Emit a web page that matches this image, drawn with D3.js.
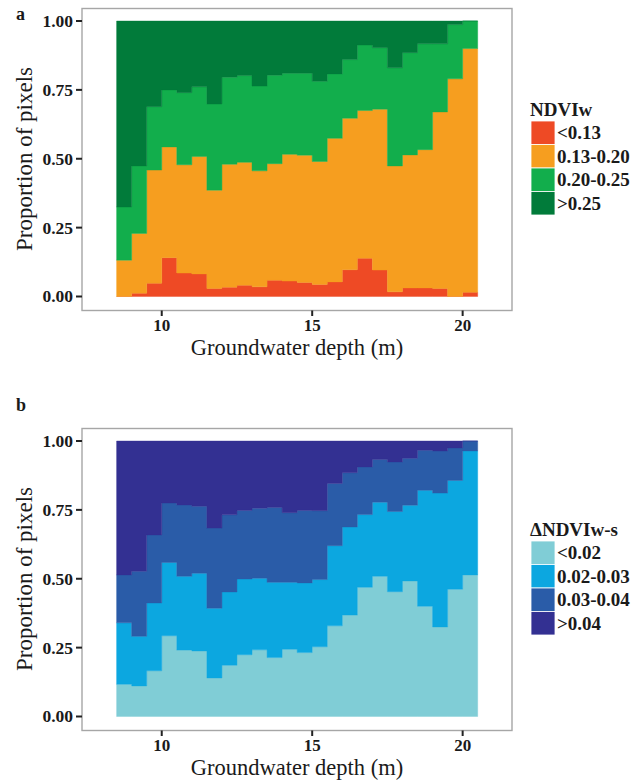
<!DOCTYPE html>
<html>
<head>
<meta charset="utf-8">
<script src="https://cdn.jsdelivr.net/npm/d3@7/dist/d3.min.js"></script>
<style>
  html, body { margin: 0; padding: 0; background: #fff; }
  svg { display: block; font-family: "Liberation Serif", "DejaVu Serif", serif; }
</style>
</head>
<body>
<svg id="chart" width="635" height="781"></svg>
<script>
// Groundwater depth bins (start of each 0.5 m bin)
const binStart = [8.5, 9.0, 9.5, 10.0, 10.5, 11.0, 11.5, 12.0, 12.5, 13.0, 13.5, 14.0,
                  14.5, 15.0, 15.5, 16.0, 16.5, 17.0, 17.5, 18.0, 18.5, 19.0, 19.5, 20.0];
const binWidth = 0.5;

// Panel a: proportion of pixels in each NDVIw class
const ndviClasses = ["<0.13", "0.13-0.20", "0.20-0.25", ">0.25"];
const ndviColors  = ["#EE4A25", "#F69E1F", "#12AE4C", "#017B3A"];
const ndviLow   = [0, .012, .048, .141, .085, .082, .029, .034, .041, .035, .059, .056,
                   .051, .044, .053, .097, .139, .096, .017, .031, .031, .029, 0, .015];
const ndviMid1  = [.132, .217, .411, .402, .393, .426, .357, .446, .446, .421, .423, .460,
                   .462, .446, .521, .550, .536, .584, .457, .483, .502, .641, .790, .885];
const ndviMid2  = [.193, .245, .230, .207, .262, .253, .313, .316, .315, .308, .321, .294,
                   .297, .291, .234, .213, .238, .223, .356, .371, .384, .247, .197, .100];
const ndviHigh  = [.675, .526, .311, .250, .260, .239, .301, .204, .198, .236, .197, .190,
                   .190, .219, .192, .140, .087, .097, .170, .115, .083, .083, .013, 0];

// Panel b: proportion of pixels in each ΔNDVIw-s class
const dClasses = ["<0.02", "0.02-0.03", "0.03-0.04", ">0.04"];
const dColors  = ["#80CDD6", "#0CA7E0", "#2A5CA8", "#333092"];
const dLow   = [.117, .111, .166, .293, .241, .238, .140, .186, .224, .242, .214, .244,
                .232, .253, .329, .368, .469, .509, .453, .492, .400, .325, .462, .514];
const dMid1  = [.223, .180, .246, .266, .268, .282, .253, .266, .275, .260, .273, .243,
                .253, .244, .291, .320, .264, .269, .291, .275, .421, .486, .395, .450];
const dMid2  = [.174, .236, .247, .216, .259, .243, .291, .280, .249, .254, .272, .253,
                .263, .250, .226, .197, .173, .155, .180, .170, .145, .153, .118, .036];
const dHigh  = [.486, .473, .341, .225, .232, .237, .316, .268, .252, .244, .241, .260,
                .252, .253, .154, .115, .094, .067, .076, .063, .034, .036, .025, 0];

const xTicks = [10, 15, 20];
const yTicks = [0, 0.25, 0.5, 0.75, 1];

const svg = d3.select("#chart");

function drawPanel(opts) {
  const { top, letter, letterY, series, classes, colors, legendTitle } = opts;
  const box = { left: 82, right: 512, top: top, bottom: top + 302 };
  const x = d3.scaleLinear().domain([7.35, 21.64]).range([box.left, box.right]);
  const y = d3.scaleLinear().domain([0, 1]).range([top + 288.5, top + 13]);

  const g = svg.append("g");

  // one row per bin, stacked by class
  const rows = binStart.map((b, i) => {
    const r = { x0: b, x1: b + binWidth };
    classes.forEach((c, k) => r[c] = series[k][i]);
    return r;
  });
  const stacked = d3.stack().keys(classes)(rows);

  const area = d3.area()
    .x(d => x(d.x))
    .y0(d => y(d.y0))
    .y1(d => y(d.y1));

  stacked.forEach((layer, k) => {
    const pts = [];
    layer.forEach(seg => {
      pts.push({ x: seg.data.x0, y0: seg[0], y1: seg[1] });
      pts.push({ x: seg.data.x1, y0: seg[0], y1: seg[1] });
    });
    g.append("path")
      .attr("d", area(pts))
      .attr("fill", colors[k])
      .attr("stroke", colors[k])
      .attr("stroke-width", 0.4);
  });

  // panel border
  g.append("rect")
    .attr("x", box.left).attr("y", box.top + 0.5)
    .attr("width", box.right - box.left).attr("height", box.bottom - box.top)
    .attr("fill", "none").attr("stroke", "#a6a6a6").attr("stroke-width", 1.4);

  // y axis
  const yAxis = g.append("g");
  yTicks.forEach(t => {
    yAxis.append("line")
      .attr("x1", 76).attr("x2", box.left)
      .attr("y1", y(t)).attr("y2", y(t))
      .attr("stroke", "#222").attr("stroke-width", 2);
    yAxis.append("text")
      .attr("x", 73).attr("y", y(t))
      .attr("dy", "0.34em")
      .attr("text-anchor", "end")
      .attr("font-weight", "bold").attr("font-size", 17.5)
      .attr("fill", "#1a1a1a")
      .text(d3.format(".2f")(t));
  });

  // x axis
  const xAxis = g.append("g");
  xTicks.forEach(t => {
    xAxis.append("line")
      .attr("x1", x(t)).attr("x2", x(t))
      .attr("y1", box.bottom + 0.5).attr("y2", box.bottom + 6)
      .attr("stroke", "#222").attr("stroke-width", 2);
    xAxis.append("text")
      .attr("x", x(t)).attr("y", box.bottom + 21)
      .attr("text-anchor", "middle")
      .attr("font-weight", "bold").attr("font-size", 17)
      .attr("fill", "#1a1a1a")
      .text(t);
  });

  // axis titles
  g.append("text")
    .attr("x", (box.left + box.right) / 2).attr("y", box.bottom + 44.5)
    .attr("text-anchor", "middle")
    .attr("font-size", 22.5).attr("fill", "#1a1a1a")
    .text("Groundwater depth (m)");
  g.append("text")
    .attr("transform", `translate(32,${(box.top + box.bottom) / 2}) rotate(-90)`)
    .attr("text-anchor", "middle")
    .attr("font-size", 23).attr("fill", "#1a1a1a")
    .text("Proportion of pixels");

  // panel letter
  g.append("text")
    .attr("x", 16).attr("y", letterY)
    .attr("font-weight", "bold").attr("font-size", 18)
    .attr("fill", "#1a1a1a")
    .text(letter);

  // legend (top class first)
  const lg = g.append("g").attr("transform", `translate(531,${top + 108})`);
  lg.append("text")
    .attr("x", -1).attr("y", 0)
    .attr("font-weight", "bold").attr("font-size", 19)
    .attr("fill", "#1a1a1a")
    .text(legendTitle);
  const keyH = 23.5;
  classes.forEach((c, k) => {
    lg.append("rect")
      .attr("x", 0).attr("y", 5 + k * keyH)
      .attr("width", 24).attr("height", keyH)
      .attr("fill", colors[k])
      .attr("stroke", "#fff").attr("stroke-width", 0.8);
    lg.append("text")
      .attr("x", 26).attr("y", 5 + k * keyH + keyH / 2)
      .attr("dy", "0.35em")
      .attr("font-weight", "bold").attr("font-size", 19)
      .attr("fill", "#1a1a1a")
      .text(c);
  });
}

drawPanel({
  top: 8, letter: "a", letterY: 20,
  series: [ndviLow, ndviMid1, ndviMid2, ndviHigh],
  classes: ndviClasses, colors: ndviColors, legendTitle: "NDVIw"
});

drawPanel({
  top: 428, letter: "b", letterY: 411,
  series: [dLow, dMid1, dMid2, dHigh],
  classes: dClasses, colors: dColors, legendTitle: "ΔNDVIw-s"
});
</script>
</body>
</html>
